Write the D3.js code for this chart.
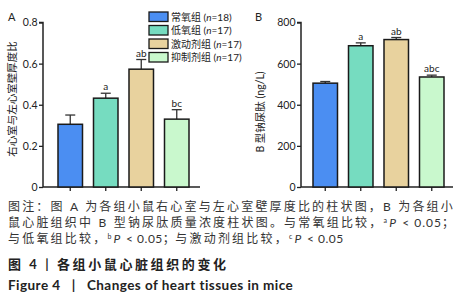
<html>
  <meta charset="utf-8" />
  <script src="https://d3js.org/d3.v7.min.js"></script>
  <style>
    body { margin: 0; background: #fff; }
    text { font-family: Lato, "Noto Sans CJK SC", sans-serif; }
  </style>
  <body>
    <div id="chart"></div>
    <script>
      // groups and sample sizes
      const groups = ["常氧组", "低氧组", "激动剂组", "抑制剂组"];
      const nCounts = [18, 17, 17, 17];
      const colors = ["#4b8ef2", "#76dcc0", "#e8d29e", "#c9f8cd"];

      // panel A: RV / LV wall thickness ratio
      const ratioMean = [0.305, 0.432, 0.573, 0.33];
      const ratioErr = [0.045, 0.024, 0.047, 0.046];
      const ratioSig = ["", "a", "ab", "bc"];
      const ratioTicks = [0, 0.2, 0.4, 0.6, 0.8];

      // panel B: BNP (ng/L)
      const bnpMean = [505, 687, 717, 535];
      const bnpErr = [8, 14, 10, 9];
      const bnpSig = ["", "a", "ab", "abc"];
      const bnpTicks = [0, 200, 400, 600, 800];

      const captionLines = [
        "图注：图 A 为各组小鼠右心室与左心室壁厚度比的柱状图，B 为各组小",
        "鼠心脏组织中 B 型钠尿肽质量浓度柱状图。与常氧组比较，",
        "与低氧组比较，"
      ];

      const svg = d3.select("#chart").append("svg")
        .attr("width", 463).attr("height", 300);

      function panel(opt) {
        const y = d3.scaleLinear().domain(opt.domain).range([187, 22.5]);
        const x = d3.scaleBand().domain(groups)
          .range(opt.bandRange).paddingInner(0.31).paddingOuter(0.155);
        const g = svg.append("g");

        // y axis
        const ya = g.append("g").attr("transform", `translate(${opt.axisX},0)`)
          .call(d3.axisLeft(y).tickValues(opt.ticks).tickSize(4)
            .tickFormat(opt.fmt));
        ya.select(".domain").attr("stroke", "#222").attr("stroke-width", 1.5)
          .attr("d", `M-4,${y(opt.domain[1])}H0V${y(0)}`);
        ya.selectAll(".tick line").attr("stroke", "#222").attr("stroke-width", 1.3);
        ya.selectAll(".tick text").attr("font-size", 10.5).attr("fill", "#222")
          .attr("x", -5.5);

        // x axis
        g.append("line").attr("x1", opt.axisX).attr("x2", opt.axisEnd)
          .attr("y1", y(0)).attr("y2", y(0))
          .attr("stroke", "#222").attr("stroke-width", 1.5);
        g.selectAll(".xt").data(groups).enter().append("line")
          .attr("x1", d => x(d) + x.bandwidth() / 2)
          .attr("x2", d => x(d) + x.bandwidth() / 2)
          .attr("y1", y(0)).attr("y2", y(0) + 4)
          .attr("stroke", "#222").attr("stroke-width", 1.3);

        // error bars
        groups.forEach((gname, i) => {
          const cx = x(gname) + x.bandwidth() / 2;
          const top = y(opt.mean[i] + opt.err[i]);
          g.append("line").attr("x1", cx).attr("x2", cx)
            .attr("y1", y(opt.mean[i])).attr("y2", top)
            .attr("stroke", "#333").attr("stroke-width", 1.3);
          g.append("line").attr("x1", cx - 5).attr("x2", cx + 5)
            .attr("y1", top).attr("y2", top)
            .attr("stroke", "#333").attr("stroke-width", 1.3);
          g.append("text").attr("x", cx).attr("y", top - 3)
            .attr("text-anchor", "middle").attr("font-size", 10)
            .attr("fill", "#222").text(opt.sig[i]);
        });

        // bars
        g.selectAll(".bar").data(groups).enter().append("rect")
          .attr("x", d => x(d))
          .attr("y", (d, i) => y(opt.mean[i]))
          .attr("width", x.bandwidth())
          .attr("height", (d, i) => y(0) - y(opt.mean[i]))
          .attr("fill", (d, i) => colors[i])
          .attr("stroke", "#1a1a1a").attr("stroke-width", 1.5);

        // panel letter
        g.append("text").attr("x", opt.letterX).attr("y", 21)
          .attr("font-size", 11).attr("fill", "#222").text(opt.letter);

        // y title
        g.append("text")
          .attr("transform", `translate(${opt.titleX},${opt.titleY}) rotate(-90)`)
          .attr("text-anchor", "middle").attr("font-size", 10.5)
          .attr("fill", "#222").text(opt.title);
      }

      panel({
        domain: [0, 0.8], ticks: ratioTicks, mean: ratioMean, err: ratioErr,
        sig: ratioSig, axisX: 43, axisEnd: 200, bandRange: [52.5, 194.5],
        fmt: d => (d === 0 ? "0" : d3.format(".1f")(d)),
        letter: "A", letterX: 8, title: "右心室与左心室壁厚度比",
        titleX: 16, titleY: 99
      });

      panel({
        domain: [0, 800], ticks: bnpTicks, mean: bnpMean, err: bnpErr,
        sig: bnpSig, axisX: 301, axisEnd: 453, bandRange: [307.5, 449.5],
        fmt: d3.format("d"),
        letter: "B", letterX: 255, title: "B 型钠尿肽 (ng/L)",
        titleX: 264, titleY: 112
      });

      // legend
      const legend = svg.append("g").attr("transform", "translate(149,12)");
      groups.forEach((gname, i) => {
        const row = legend.append("g").attr("transform", `translate(0,${i * 13.5})`);
        row.append("rect").attr("width", 19).attr("height", 9.5)
          .attr("fill", colors[i]).attr("stroke", "#1a1a1a").attr("stroke-width", 1.3);
        const t = row.append("text").attr("x", 22).attr("y", 8.8)
          .attr("font-size", 10).attr("fill", "#222");
        t.append("tspan").text(gname + " (");
        t.append("tspan").attr("font-style", "italic").text("n");
        t.append("tspan").text("=" + nCounts[i] + ")");
      });

      // caption
      const cap = svg.append("g").attr("fill", "#333").attr("font-size", 12)
        .attr("letter-spacing", 2.2);
      cap.append("text").attr("x", 8).attr("y", 211)
        .attr("textLength", 447).attr("lengthAdjust", "spacing")
        .text(captionLines[0]);

      function sup(t, s) {
        t.append("tspan").attr("font-size", 7).attr("dy", -4).text(s);
        t.append("tspan").attr("font-style", "italic").attr("dy", 4).text("P");
      }

      const l2 = cap.append("text").attr("x", 8).attr("y", 227);
      l2.append("tspan").text(captionLines[1]);
      sup(l2, "a");
      l2.append("tspan").attr("letter-spacing", 1).text(" < 0.05；");

      const l3 = cap.append("text").attr("x", 8).attr("y", 243);
      l3.append("tspan").text(captionLines[2]);
      sup(l3, "b");
      l3.append("tspan").attr("letter-spacing", 0.5).text(" < 0.05；");
      l3.append("tspan").text("与激动剂组比较，");
      sup(l3, "c");
      l3.append("tspan").attr("letter-spacing", 0.5).text(" < 0.05");

      svg.append("text").attr("x", 8).attr("y", 269)
        .attr("font-size", 13).attr("font-weight", "bold").attr("fill", "#222")
        .attr("letter-spacing", 2.6)
        .text("图 4 | 各组小鼠心脏组织的变化");
      svg.append("text").attr("x", 8).attr("y", 290)
        .attr("font-size", 13.5).attr("font-weight", "bold").attr("fill", "#222")
        .attr("letter-spacing", 0.45)
        .attr("xml:space", "preserve")
        .text("Figure 4   |   Changes of heart tissues in mice");
    </script>
  </body>
</html>
